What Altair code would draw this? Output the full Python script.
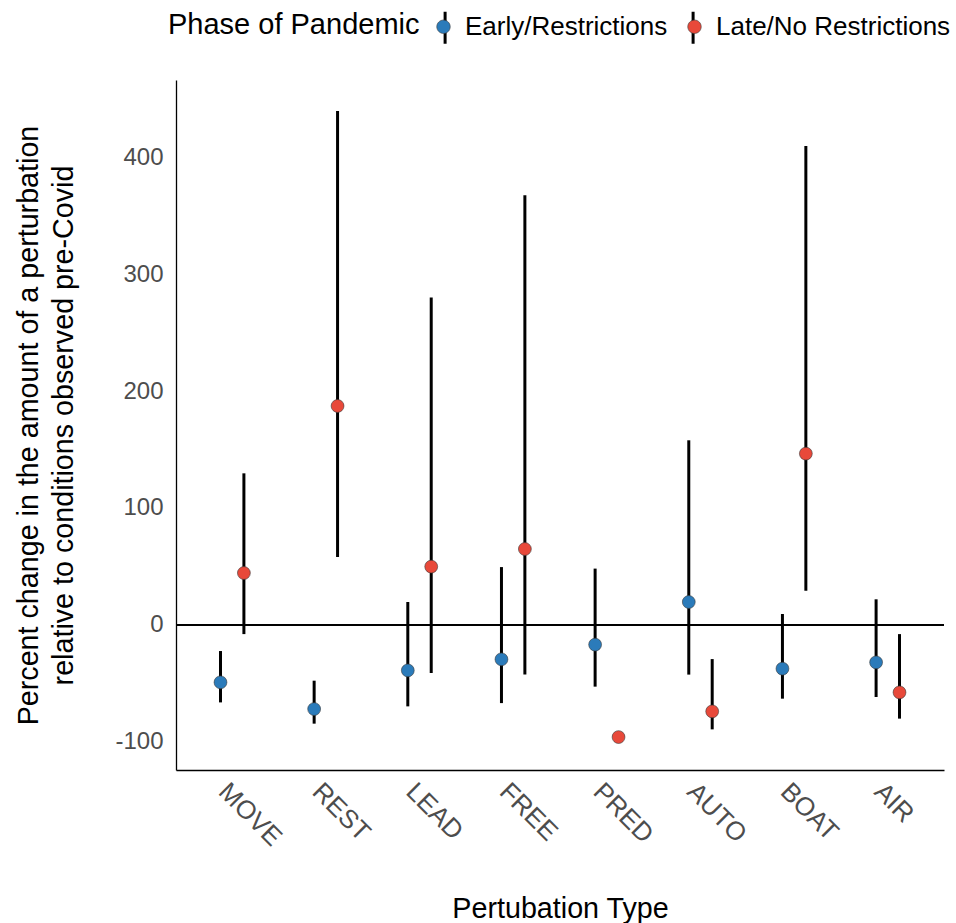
import altair as alt
import pandas as pd

# Perturbation categories along the x axis
categories = ["MOVE", "REST", "LEAD", "FREE", "PRED", "AUTO", "BOAT", "AIR"]
phases = ["Early/Restrictions", "Late/No Restrictions"]

# Early phase: estimate and interval bounds (% change)
early_est = [-49.4, -72.3, -39.2, -29.7, -17.1, 19.4, -37.7, -32.3]
early_lo = [-66.6, -84.8, -70.0, -67.2, -53.1, -42.8, -63.4, -62.0]
early_hi = [-22.6, -48.0, 19.4, 49.3, 48.0, 157.9, 9.1, 21.7]

# Late phase: estimate and interval bounds (% change); PRED has no interval
late_est = [44.2, 187.3, 49.7, 64.8, -96.3, -74.3, 146.5, -58.0]
late_lo = [-8.1, 57.9, -41.5, -42.6, None, -89.7, 29.1, -80.5]
late_hi = [129.6, 440.0, 280.1, 367.8, None, -29.5, 410.0, -8.1]

colors = ["#2B7BBA", "#E8493A"]

rows = []
for i, c in enumerate(categories):
    rows.append({"type": c, "phase": phases[0], "est": early_est[i],
                 "lo": early_lo[i], "hi": early_hi[i]})
    rows.append({"type": c, "phase": phases[1], "est": late_est[i],
                 "lo": late_lo[i], "hi": late_hi[i]})
df = pd.DataFrame(rows)

FONT = "Liberation Sans"

x_enc = alt.X(
    "type:N",
    sort=categories,
    scale=alt.Scale(paddingInner=0, paddingOuter=0.1),
    axis=alt.Axis(
        title="Pertubation Type",
        labelAngle=45,
        labelAlign="left",
        labelBaseline="top",
        labelPadding=8,
        labelFontSize=26,
        titlePadding=44,
    ),
)
xoff_enc = alt.XOffset(
    "phase:N",
    sort=phases,
    scale=alt.Scale(domain=phases, paddingInner=0, paddingOuter=1),
)
y_scale = alt.Scale(domain=[-124.5, 466.5], nice=False, zero=False)
y_axis = alt.Axis(
    title=["Percent change in the amount of a perturbation",
           "relative to conditions observed pre-Covid"],
    values=[-100, 0, 100, 200, 300, 400],
    labelExpr="'' + datum.value",
    labelPadding=13,
    titlePadding=36,
    titleLineHeight=35,
)

base = alt.Chart(df)

# legend symbol: a filled dot (cubic approximation of a circle)
r, k = 0.42, 0.232
dot_path = (
    f"M{r},0C{r},{k},{k},{r},0,{r}C{-k},{r},{-r},{k},{-r},0"
    f"C{-r},{-k},{-k},{-r},0,{-r}C{k},{-r},{r},{-k},{r},0Z"
)

# dot legend carries the title and labels
dot_legend = alt.Legend(
    orient="none",
    legendX=-8,
    legendY=-70,
    direction="horizontal",
    columns=2,
    titleOrient="left",
    title="Phase of Pandemic",
    symbolType=dot_path,
    symbolSize=1024,
    symbolStrokeColor="#3a3a3a",
    symbolStrokeWidth=0.6,
    symbolOpacity=1,
    titlePadding=7,
    labelOffset=5,
    columnPadding=10,
    labelLimit=400,
    titleLimit=400,
)

# line legend: bare vertical strokes drawn beneath the dots
line_legend = alt.Legend(
    orient="none",
    legendX=251.6,
    legendY=-70,
    direction="horizontal",
    columns=2,
    title=None,
    symbolType="M0,-1L0,1",
    symbolSize=1024,
    symbolStrokeWidth=3,
    symbolStrokeColor="black",
    labelExpr="''",
    labelOffset=0,
    columnPadding=213,
)

zero_line = base.mark_rule(color="black", strokeWidth=1.3).encode(
    y=alt.datum(0, scale=y_scale, axis=y_axis)
)

ranges = base.mark_rule(strokeWidth=3).encode(
    x=x_enc,
    xOffset=xoff_enc,
    y=alt.Y("lo:Q", scale=y_scale, axis=y_axis),
    y2="hi:Q",
    color=alt.Color(
        "phase:N",
        scale=alt.Scale(range=["black", "black"]),
        legend=line_legend,
    ),
)

points = base.mark_point(
    filled=True, size=165, stroke="#3a3a3a", strokeWidth=0.6, opacity=1
).encode(
    x=x_enc,
    xOffset=xoff_enc,
    y=alt.Y("est:Q", scale=y_scale, axis=y_axis),
    fill=alt.Fill(
        "phase:N",
        scale=alt.Scale(domain=phases, range=colors),
        legend=dot_legend,
    ),
)

chart = (
    alt.layer(zero_line, ranges, points)
    .properties(
        width=768,
        height=690,
        autosize=alt.AutoSizeParams(type="none"),
        padding={"left": 176, "top": 80, "right": 12, "bottom": 153},
        background="white",
    )
    .configure_view(stroke=None)
    .configure_axis(
        grid=False,
        ticks=False,
        tickSize=0,
        domainColor="black",
        domainWidth=1.3,
        labelFont=FONT,
        labelFontSize=24,
        labelColor="#4D4D4D",
        titleFont=FONT,
        titleFontSize=28.7,
        titleFontWeight="normal",
        titleColor="black",
    )
    .configure_legend(
        labelFont=FONT,
        labelFontSize=26,
        labelColor="black",
        titleFont=FONT,
        titleFontSize=29,
        titleFontWeight="normal",
        titleColor="black",
        titleBaseline="middle",
    )
)

chart.save("out.html", embed_options={"renderer": "svg", "actions": False})
